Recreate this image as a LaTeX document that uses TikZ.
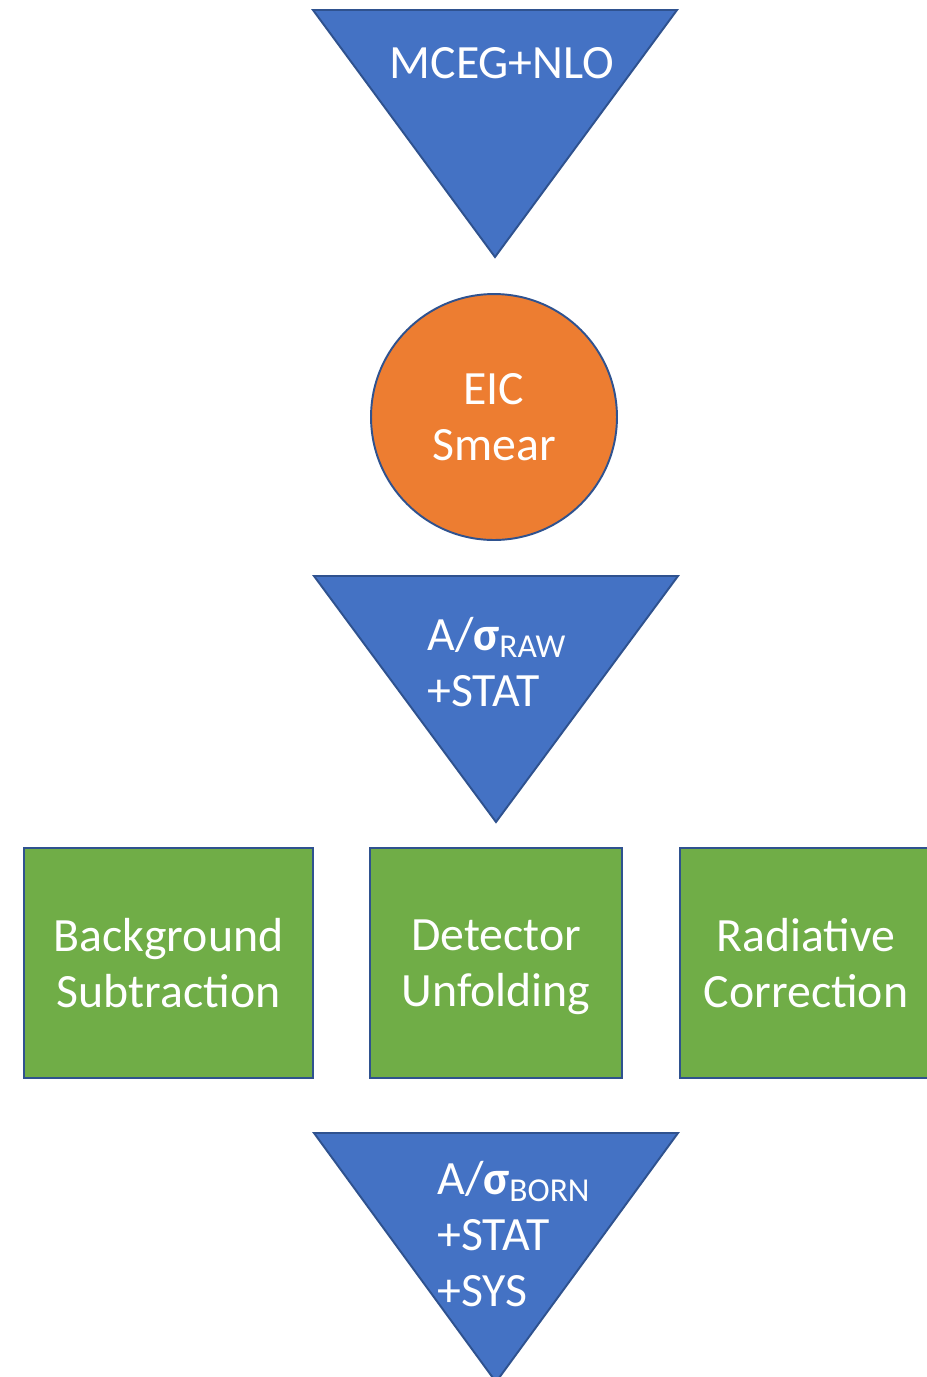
\documentclass[tikz,border=0pt]{standalone}
\usepackage{fontspec}
\setmainfont{Carlito}
\usetikzlibrary{positioning}
\definecolor{triblue}{HTML}{4472C4}
\definecolor{edgeblue}{HTML}{2F528F}
\definecolor{smearorange}{HTML}{ED7D31}
\definecolor{boxgreen}{HTML}{70AD47}
\begin{document}
\begin{tikzpicture}[
        x=0.02cm, y=-0.02cm,
        funnel/.style={fill=triblue, draw=edgeblue, line width=1.1pt},
        label/.style={text=white, inner sep=0pt, font=\fontsize{27.2}{31.8}\selectfont},
        stepbox/.style={rectangle, draw=edgeblue, fill=boxgreen, line width=1.1pt,
            minimum height=4.6cm, text=white, align=center, font=\fontsize{27.2}{31.8}\selectfont},
        smear/.style={circle, draw=edgeblue, fill=smearorange, line width=1.1pt,
            minimum size=4.92cm, text=white, align=center, font=\fontsize{27.2}{31.8}\selectfont}
    ]
    \useasboundingbox (0,0) rectangle (927,1377);
    \fill[white] (0,0) rectangle (927,1377);

    % Generator
    \draw[funnel] (313,10) -- (677,10) -- (495,257) -- cycle;
    \node[label] (mceg) at (502,63) {MCEG+NLO};

    % Smearing
    \node[smear] (eic) at (494,417) {EIC\\Smear};

    % Raw asymmetry
    \draw[funnel] (314,576) -- (678,576) -- (496,822) -- cycle;
    \node[label, align=left, anchor=west] (raw) at (427,662)
        {A/{\bfseries σ}\textsubscript{RAW}\\+STAT};

    % Corrections
    \node[stepbox, minimum width=5.78cm] (bkg) at (168.5,963) {Background\\Subtraction};
    \node[stepbox, minimum width=5.04cm] (unfold) at (496,963)
        {Detector\\\raisebox{0pt}[\height][0pt]{Unfolding}};
    \node[stepbox, minimum width=5.04cm] (radcor) at (806,963) {Radiative\\Correction};

    % Born level
    \draw[funnel] (314,1133) -- (678,1133) -- (496,1382) -- cycle;
    \node[label, align=left, anchor=west] (born) at (437,1234)
        {A/{\bfseries σ}\textsubscript{BORN}\\+STAT\\+SYS};
\end{tikzpicture}
\end{document}
